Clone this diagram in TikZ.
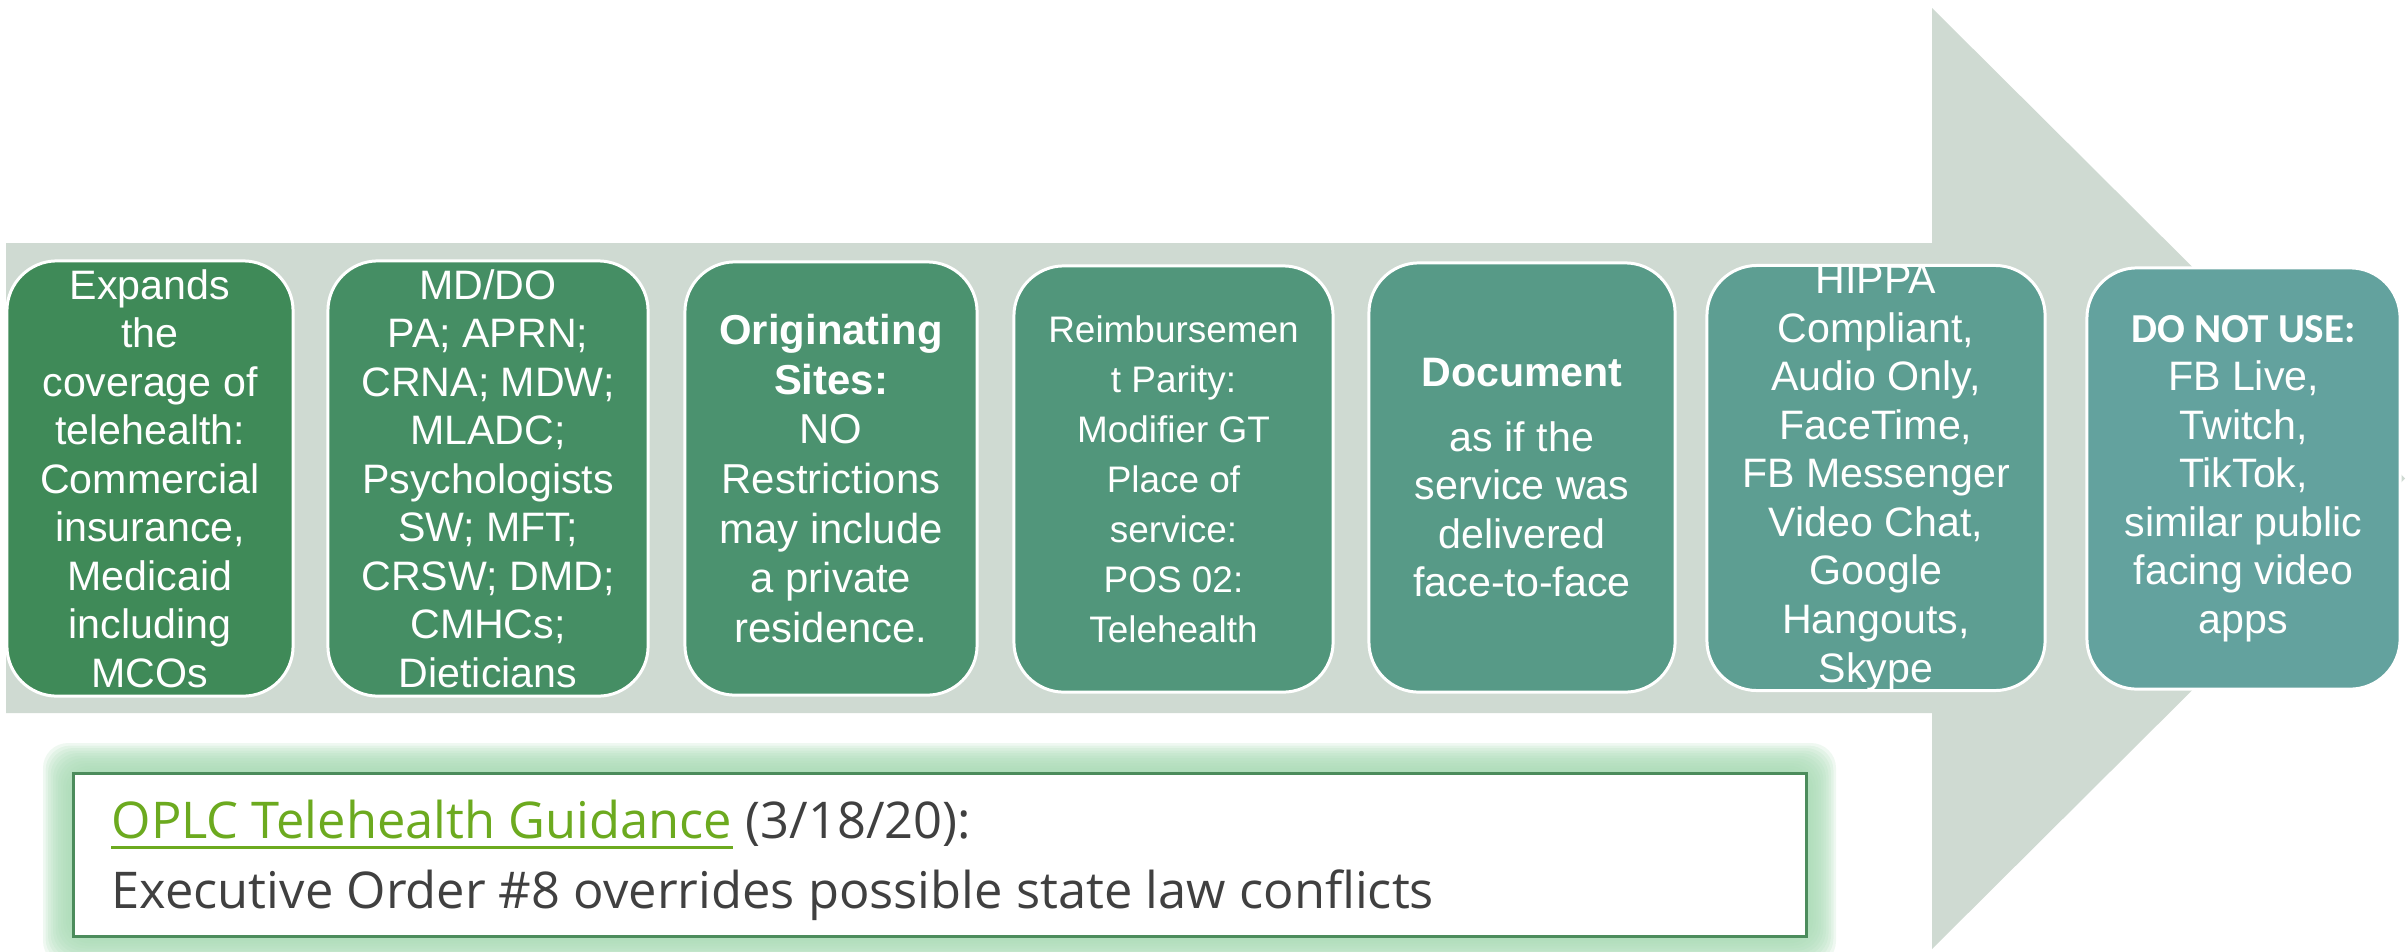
\documentclass[tikz,border=0pt]{standalone}
\usepackage{fontspec}
\setmainfont{Liberation Sans}
\newfontfamily\calibrifont{Carlito}
\newfontfamily\guidefont{Open Sans}
\usepackage{tikz}
\usetikzlibrary{positioning}

\definecolor{arrowgray}{RGB}{207,218,210}
\definecolor{stepA}{RGB}{63,138,88}
\definecolor{stepB}{RGB}{69,142,100}
\definecolor{stepC}{RGB}{75,146,111}
\definecolor{stepD}{RGB}{81,150,123}
\definecolor{stepE}{RGB}{87,154,135}
\definecolor{stepF}{RGB}{93,158,146}
\definecolor{stepG}{RGB}{99,162,158}
\definecolor{glowgreen}{RGB}{168,218,180}
\definecolor{framegreen}{RGB}{76,140,92}
\definecolor{linkgreen}{RGB}{108,170,31}
\definecolor{darktext}{RGB}{64,64,64}

\begin{document}
\begin{tikzpicture}[x=0.01cm,y=-0.01cm,
stepbox/.style={draw=white, line width=0.85pt, rounded corners=0.5cm,
text=white, align=center, inner sep=0pt,
font=\fontsize{11.7pt}{13.8pt}\selectfont},
guideline/.style={anchor=base west, inner sep=0pt, text=darktext,
font=\guidefont\fontsize{14.4pt}{19.9pt}\selectfont}]
\useasboundingbox (0,0) rectangle (2407,951);

% big process arrow behind the steps
\fill[arrowgray] (6,243) -- (1932,243) -- (1932,8) -- (2405,478.5)
  -- (1932,949) -- (1932,713) -- (6,713) -- cycle;

% the seven steps
\node[stepbox, fill=stepA, minimum width=2.86cm, minimum height=4.35cm] (cover) at (150,478.5)
  {Expands\\the\\coverage of\\telehealth:\\Commercial\\insurance,\\Medicaid\\including\\MCOs};
\node[stepbox, fill=stepB, minimum width=3.2cm, minimum height=4.35cm] (provider) at (488,478.5)
  {MD/DO\\PA; APRN;\\CRNA; MDW;\\MLADC;\\Psychologists\\SW; MFT;\\CRSW; DMD;\\CMHCs;\\Dieticians};
\node[stepbox, fill=stepC, minimum width=2.92cm, minimum height=4.33cm,
  font=\fontsize{11.9pt}{14.1pt}\selectfont] (sites) at (831,478.5)
  {\textbf{Originating}\\\textbf{Sites:}\\NO\\Restrictions\\may include\\a private\\residence.};
\node[stepbox, fill=stepD, minimum width=3.19cm, minimum height=4.26cm,
  font=\fontsize{10.5pt}{14.2pt}\selectfont] (parity) at (1173.5,479)
  {Reimbursemen\\t Parity:\\Modifier GT\\Place of\\service:\\POS 02:\\Telehealth};
\node[stepbox, fill=stepE, minimum width=3.06cm, minimum height=4.29cm] (document) at (1522,477.5)
  {\textbf{Document}\\[4.7pt]as if the\\service was\\delivered\\face-to-face};
\node[stepbox, fill=stepF, minimum width=3.38cm, minimum height=4.22cm] (platforms) at (1876,478)
  {HIPPA\\Compliant,\\Audio Only,\\FaceTime,\\FB Messenger\\Video Chat,\\Google\\Hangouts,\\Skype};
\node[stepbox, fill=stepG, minimum width=3.13cm, minimum height=4.21cm] (avoid) at (2243.5,478.5)
  {{\calibrifont\bfseries DO NOT USE:}\\FB Live,\\Twitch,\\TikTok,\\similar public\\facing video\\apps};

% guidance call-out with soft glow
\foreach \g in {1,...,12}
  \fill[glowgreen, opacity=0.18, rounded corners=0.25cm]
    (73-2.5*\g,773-2.5*\g) rectangle (1806+2.5*\g,936+2.5*\g);
\draw[framegreen, line width=0.03cm, fill=white] (73,773) rectangle (1806,936);
\node[guideline, text=linkgreen] (link) at (111,838) {OPLC Telehealth Guidance};
\node[guideline, right=0.12cm of link.base east, anchor=base west] (date) {(3/18/20):};
\draw[linkgreen, line width=0.03cm] ([yshift=-0.09cm]link.base west) -- ([yshift=-0.09cm]link.base east);
\node[guideline] (order) at (111,908)
  {Executive Order \#8 overrides possible state law conflicts};
\end{tikzpicture}
\end{document}
